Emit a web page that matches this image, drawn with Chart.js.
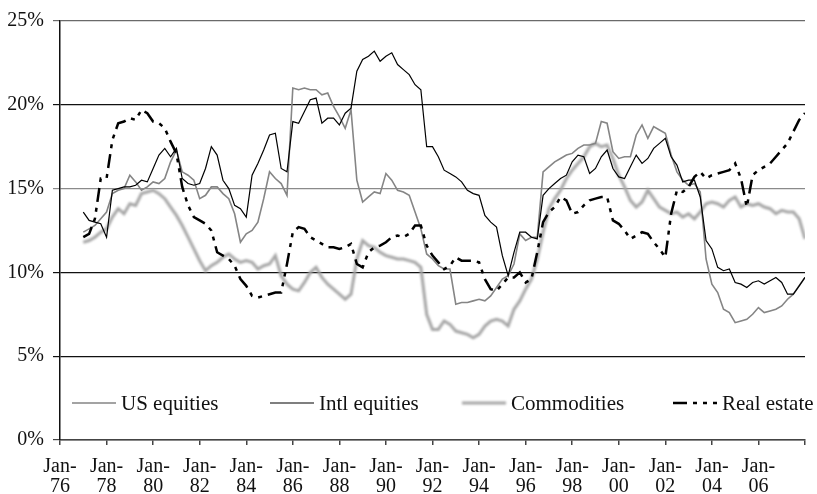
<!DOCTYPE html>
<html>
<head>
<meta charset="utf-8">
<script src="https://cdn.jsdelivr.net/npm/chart.js@4.4.1/dist/chart.umd.min.js"></script>
<style>
  body { margin: 0; background: #fff; }
  canvas { display: block; }
</style>
</head>
<body>
<canvas id="chart" width="817" height="494"></canvas>
<script>
'use strict';

// quarterly readings, Jan-77 .. Jan-08 (four values per row = one year)
const us_equities = [
    12.4, 12.6, 12.8, 13.2,
    13.6, 14.7, 14.9, 15.0,
    15.8, 15.4, 14.9, 15.1,
    15.4, 15.3, 15.6, 16.6,
    17.3, 16.0, 15.8, 15.5,
    14.4, 14.6, 15.1, 15.1,
    14.7, 14.4, 13.5, 11.8,
    12.3, 12.5, 13.0, 14.4,
    16.0, 15.6, 15.3, 14.6,
    21.0, 20.9, 21.0, 20.9,
    20.9, 20.6, 20.7, 19.9,
    19.3, 18.6, 19.7, 15.5,
    14.2, 14.5, 14.8, 14.7,
    15.9, 15.5, 14.9, 14.8,
    14.6, 13.6, 12.6, 11.1,
    10.8, 10.4, 10.2, 10.2,
    8.1, 8.2, 8.2, 8.3,
    8.4, 8.3, 8.6, 9.1,
    9.6, 9.8, 10.5, 12.3,
    11.9, 12.1, 12.1, 16.0,
    16.3, 16.6, 16.8, 17.0,
    17.1, 17.4, 17.6, 17.6,
    17.7, 19.0, 18.9, 17.2,
    16.8, 16.9, 16.9, 18.2,
    18.8, 18.0, 18.7, 18.5,
    18.3, 17.0, 16.0, 15.5,
    15.2, 15.3, 14.8, 10.8,
    9.3, 8.8, 7.8, 7.6,
    7.0, 7.1, 7.2, 7.5,
    7.9, 7.6, 7.7, 7.8,
    8.0, 8.4, 8.7, 9.2,
    9.7
];

const intl_equities = [
    13.6, 13.1, 13.0, 12.9,
    12.1, 14.9, 15.0, 15.1,
    15.1, 15.2, 15.5, 15.4,
    16.2, 17.0, 17.4, 16.9,
    17.4, 15.6, 15.3, 15.2,
    15.3, 16.2, 17.5, 17.0,
    15.5, 15.0, 14.0, 13.8,
    13.3, 15.8, 16.5, 17.3,
    18.2, 18.3, 16.2, 16.0,
    19.0, 18.9, 19.6, 20.3,
    20.4, 18.9, 19.2, 19.2,
    18.8, 19.5, 19.8, 22.0,
    22.7, 22.9, 23.2, 22.6,
    22.9, 23.1, 22.4, 22.1,
    21.8, 21.2, 20.9, 17.5,
    17.5, 16.9, 16.1, 15.9,
    15.7, 15.4, 14.9, 14.7,
    14.6, 13.4, 13.0, 12.7,
    11.0, 9.8, 11.2, 12.4,
    12.4, 12.1, 12.0, 14.6,
    15.0, 15.3, 15.6, 15.8,
    16.6, 17.0, 16.9, 15.9,
    16.2, 16.9, 17.3, 16.2,
    15.7, 15.6, 16.3, 17.0,
    16.5, 16.8, 17.4, 17.7,
    18.0, 16.9, 16.4, 15.4,
    15.5, 15.5, 14.5, 11.9,
    11.4, 10.3, 10.1, 10.2,
    9.4, 9.3, 9.1, 9.4,
    9.5, 9.3, 9.5, 9.7,
    9.4, 8.7, 8.7, 9.2,
    9.7
];

const commodities = [
    11.8, 11.9, 12.1, 12.4,
    12.6, 13.3, 13.8, 13.5,
    14.1, 14.0, 14.7, 14.8,
    14.9, 14.7, 14.4, 13.9,
    13.4, 12.8, 12.1, 11.4,
    10.7, 10.1, 10.4, 10.6,
    10.9, 11.1, 10.8, 10.6,
    10.7, 10.6, 10.2, 10.4,
    10.5, 11.0, 9.8, 9.3,
    9.0, 8.9, 9.4, 10.0,
    10.3, 9.7, 9.3, 9.0,
    8.7, 8.4, 8.7, 10.8,
    11.9, 11.6, 11.5, 11.2,
    11.0, 10.9, 10.8, 10.8,
    10.7, 10.6, 10.3, 7.5,
    6.6, 6.6, 7.1, 6.9,
    6.5, 6.4, 6.3, 6.1,
    6.3, 6.8, 7.1, 7.2,
    7.1, 6.8, 7.8, 8.3,
    9.0, 9.6, 10.8, 12.4,
    13.8, 14.4, 14.9, 15.6,
    16.1, 16.5, 16.9, 17.5,
    17.7, 17.5, 17.6, 16.8,
    15.8, 15.1, 14.3, 13.9,
    14.2, 14.9, 14.4, 13.9,
    13.7, 13.5, 13.6, 13.3,
    13.5, 13.2, 13.6, 14.1,
    14.2, 14.1, 13.9, 14.3,
    14.5, 13.9, 14.1, 14.0,
    14.1, 13.9, 13.8, 13.5,
    13.7, 13.6, 13.6, 13.2,
    12.0
];

const real_estate = [
    12.1, 12.3, 13.2, 15.6,
    15.6, 17.9, 18.9, 19.0,
    19.2, 19.1, 19.7, 19.5,
    19.0, 18.9, 18.6, 17.8,
    17.1, 15.1, 14.0, 13.3,
    13.1, 12.9, 12.5, 11.2,
    11.0, 10.8, 10.4, 9.6,
    9.2, 8.6, 8.5, 8.6,
    8.7, 8.8, 8.8, 10.5,
    12.4, 12.7, 12.6, 12.1,
    11.9, 11.7, 11.5, 11.5,
    11.4, 11.5, 11.7, 10.5,
    10.3, 11.2, 11.5, 11.6,
    11.8, 12.1, 12.2, 12.1,
    12.3, 12.8, 12.8, 11.6,
    11.0, 10.6, 10.2, 10.4,
    10.9, 10.7, 10.7, 10.7,
    10.6, 9.6, 9.0, 8.9,
    9.3, 9.7, 9.7, 10.0,
    9.4, 9.6, 11.2, 13.0,
    13.6, 13.9, 14.5, 14.3,
    13.5, 13.6, 14.0, 14.3,
    14.4, 14.5, 14.5, 13.1,
    12.9, 12.5, 12.0, 12.2,
    12.4, 12.3, 11.8, 11.4,
    10.9, 13.5, 14.9, 14.8,
    15.1, 15.7, 16.0, 15.6,
    15.8, 15.9, 16.0, 16.1,
    16.5, 15.6, 13.9, 15.8,
    16.1, 16.3, 16.5, 16.9,
    17.3, 17.7, 18.4, 19.1,
    19.5
];

const first_year = 1977;
const quarters = us_equities.map((_, i) => first_year + i / 4);

const series_names = ['US equities', 'Intl equities', 'Commodities', 'Real estate'];
// where each legend entry starts, counted from the left edge of the plot
const legend_offsets = [12, 210, 402, 613];

const font_family = "'Liberation Serif', 'Times New Roman', serif";

const to_points = values => values.map((v, i) => ({ x: quarters[i], y: v }));

const make_dataset = (name, values, style) => ({
    label: name,
    data: to_points(values),
    pointRadius: 0,
    tension: 0,
    fill: false,
    ...style
});

const datasets = [
    make_dataset(series_names[0], us_equities, { borderColor: '#858585', borderWidth: 1.6, order: 3 }),
    make_dataset(series_names[1], intl_equities, { borderColor: '#000000', borderWidth: 1.2, order: 2 }),
    make_dataset(series_names[2], commodities, { borderColor: '#a6a6a6', borderWidth: 3, order: 4 }),
    make_dataset(series_names[3], real_estate, { borderColor: '#000000', borderWidth: 2.5, borderDash: [14, 6, 4, 6, 4, 6], borderCapStyle: 'butt', order: 1 })
];

// soft edge on the commodities line, like the scanned original
const blur_plugin = {
    id: 'blur_commodities',
    beforeDatasetDraw(chart, args) {
        if (args.index === 2) {
            chart.ctx.save();
            chart.ctx.filter = 'blur(0.9px)';
        }
    },
    afterDatasetDraw(chart, args) {
        if (args.index === 2) chart.ctx.restore();
    }
};

const legend_plugin = {
    id: 'inner_legend',
    afterDatasetsDraw(chart) {
        const ctx = chart.ctx;
        const area = chart.chartArea;
        const y = area.bottom - 37;
        chart.data.datasets.forEach((ds, i) => {
            const x0 = area.left + legend_offsets[i];
            ctx.save();
            if (i === 2) ctx.filter = 'blur(0.9px)';
            ctx.strokeStyle = ds.borderColor;
            ctx.lineWidth = ds.borderWidth;
            ctx.lineCap = 'butt';
            ctx.setLineDash(ds.borderDash || []);
            ctx.beginPath();
            ctx.moveTo(x0, y);
            ctx.lineTo(x0 + 44, y);
            ctx.stroke();
            ctx.restore();

            ctx.save();
            ctx.fillStyle = '#111';
            ctx.font = `21px ${font_family}`;
            ctx.textBaseline = 'middle';
            ctx.fillText(ds.label, x0 + 49, y + 1);
            ctx.restore();
        });
    }
};

const grid_color = context => {
    const v = context.tick.value;
    if (v === 15) return '#8a8a8a';
    if (v === 25) return '#6a6a6a';
    if (v === 0) return '#444444';
    return '#111111';
};

new Chart(document.querySelector('#chart'), {
    type: 'line',
    data: { datasets },
    options: {
        responsive: false,
        animation: false,
        layout: { padding: { top: 20, right: 0, bottom: 0, left: 0 } },
        plugins: {
            legend: { display: false },
            tooltip: { enabled: false }
        },
        scales: {
            x: {
                type: 'linear',
                min: 1976,
                max: 2008,
                afterFit: scale => { scale.height = 54; },
                ticks: {
                    stepSize: 2,
                    autoSkip: false,
                    maxRotation: 0,
                    padding: 12,
                    color: '#111',
                    font: { family: font_family, size: 20, lineHeight: 1 },
                    callback: v => v >= 2008 ? '' : ['Jan-', String(v).slice(2)]
                },
                grid: { drawOnChartArea: false, drawTicks: true, tickLength: 5, color: '#444', lineWidth: 1.5 },
                border: { display: true, color: '#444', width: 1.5 }
            },
            y: {
                min: 0,
                max: 25,
                afterFit: scale => { scale.width = 60; },
                ticks: {
                    stepSize: 5,
                    padding: 9,
                    color: '#111',
                    font: { family: font_family, size: 20 },
                    callback: v => v + '%'
                },
                grid: { color: grid_color, lineWidth: 1.2, tickLength: 7 },
                border: { display: true, color: '#111', width: 1.5 }
            }
        }
    },
    plugins: [blur_plugin, legend_plugin]
});
</script>
</body>
</html>
